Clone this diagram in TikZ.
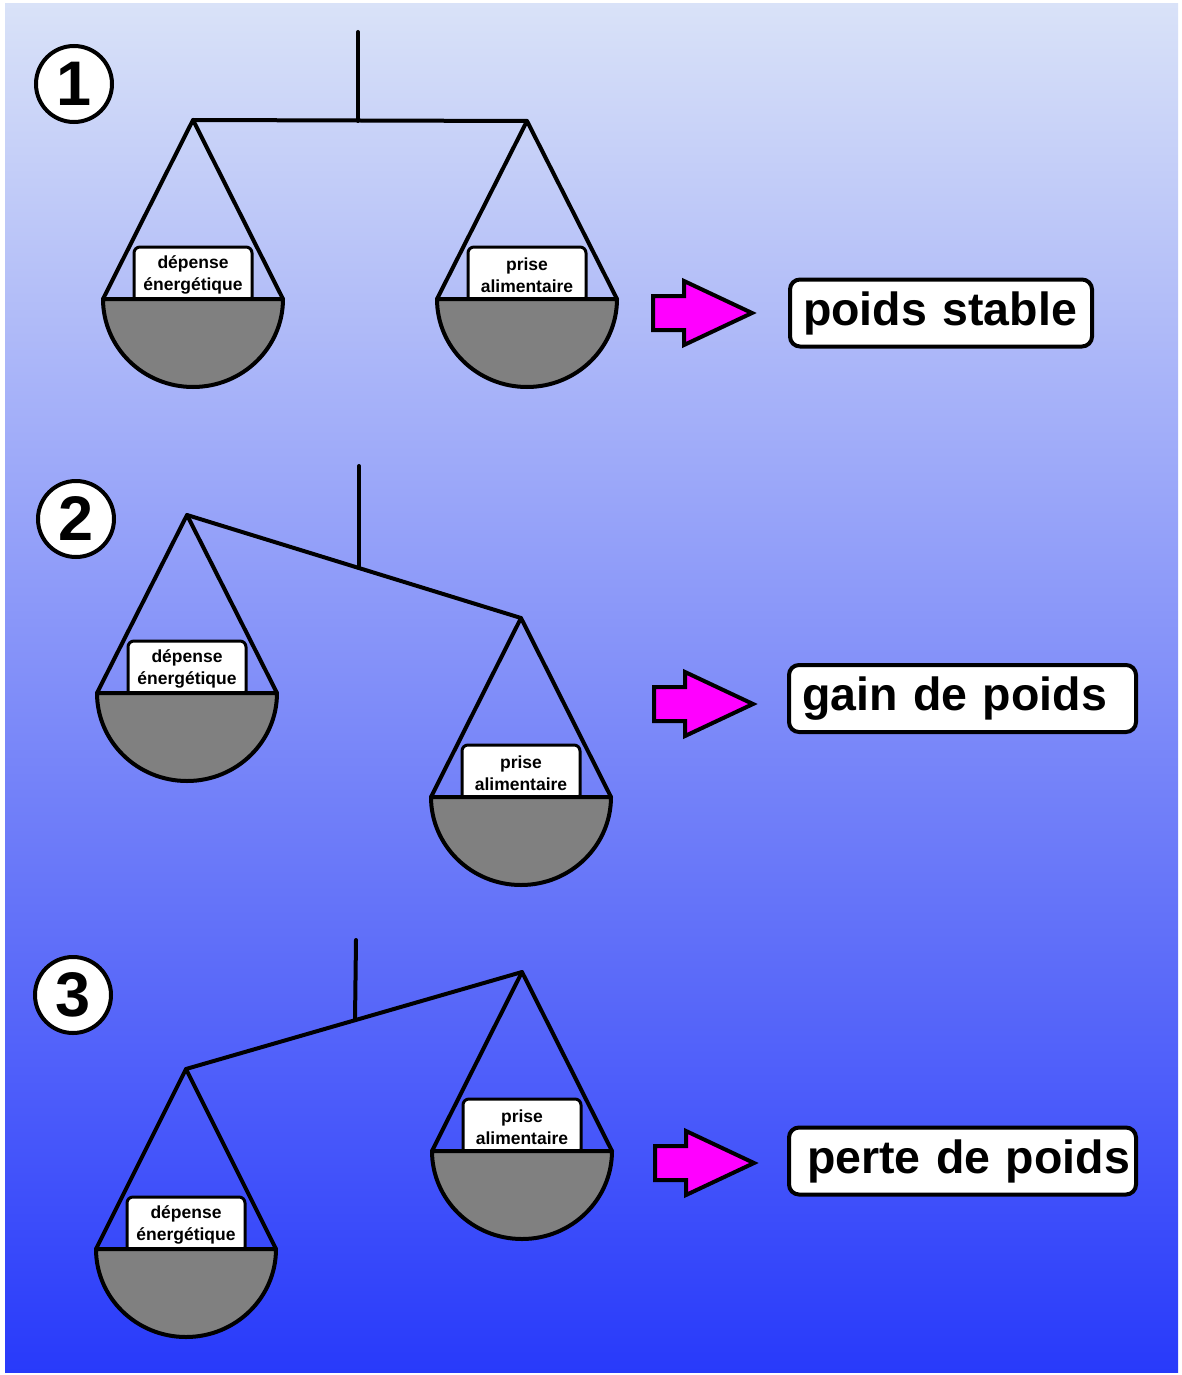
\documentclass[tikz,border=0pt]{standalone}
\usepackage{fontspec}
\setmainfont{Liberation Sans}
\definecolor{bgtop}{RGB}{217,226,248}
\definecolor{bgbot}{RGB}{40,58,250}
\definecolor{pangray}{RGB}{128,128,128}
\definecolor{arrowmag}{RGB}{255,0,255}
\newcommand\drawpan[6]{%
  \coordinate (#1-apex) at (#4,#5);
  \coordinate (#1-l) at (#2-90,#3);
  \coordinate (#1-r) at (#2+90,#3);
  \draw[stringline] (#1-l) -- (#1-apex) -- (#1-r);
  \node[panlabel] (#1-lab) at (#2,#3-24) {#6};
  \draw[panshape] (#1-l) arc[start angle=180,end angle=0,x radius=90,y radius=88] -- cycle;
}
\newcommand\drawarrowshape[2]{%
  \filldraw[arrowshape] (#1,#2-17) -- (#1+31,#2-17) -- (#1+31,#2-32) -- (#1+99,#2) -- (#1+31,#2+32) -- (#1+31,#2+17) -- (#1,#2+17) -- cycle;
}
\tikzset{
  stringline/.style={line width=4pt, line cap=round, line join=round},
  panshape/.style={draw, line width=4pt, fill=pangray, line join=round},
  panlabel/.style={draw, line width=3pt, fill=white, rounded corners=6pt, minimum width=118pt, minimum height=56pt, inner sep=0pt, align=center, font=\bfseries\fontsize{17.5}{21.5}\selectfont},
  numcircle/.style={draw, circle, line width=4pt, fill=white, minimum size=76pt, inner sep=0pt, font=\bfseries\fontsize{63}{63}\selectfont},
  resultbox/.style={draw, line width=4pt, fill=white, rounded corners=10pt, minimum height=67pt, inner xsep=13pt, inner ysep=0pt, align=left, font=\bfseries\fontsize{46.5}{50}\selectfont},
  arrowshape/.style={fill=arrowmag, draw=black, line width=4pt, line join=miter},
}
\begin{document}
\begin{tikzpicture}[x=1pt,y=-1pt]
\useasboundingbox (0,0) rectangle (1181,1375);
\fill[white] (0,0) rectangle (1181,1375);
\shade[top color=bgtop, bottom color=bgbot] (5,4) rectangle (1178,1372);

% ---- scale 1
\coordinate (p1top) at (358,32);
\coordinate (p1mid) at (358,121);
\draw[stringline] (p1top) -- (p1mid);
\drawpan{a1}{193}{299}{193}{120}{dépense\\énergétique}
\drawpan{b1}{527}{299}{527}{121}{prise\\alimentaire}
\draw[stringline] (a1-apex) -- (b1-apex);
\node[numcircle] (n1) at (74,84) {1};
\drawarrowshape{653}{313}
\node[resultbox, text width=276pt] (r1) at (941,313) {poids stable};

% ---- scale 2
\coordinate (p2top) at (359,466);
\coordinate (p2mid) at (359,568);
\draw[stringline] (p2top) -- (p2mid);
\drawpan{a2}{187}{693}{187}{515}{dépense\\énergétique}
\drawpan{b2}{521}{797}{521}{618}{prise\\alimentaire}
\draw[stringline] (a2-apex) -- (b2-apex);
\node[numcircle] (n2) at (76,519) {2};
\drawarrowshape{654}{704}
\node[resultbox, text width=321pt] (r2) at (962.5,698.5) {gain de poids};

% ---- scale 3
\coordinate (p3top) at (356,940);
\coordinate (p3mid) at (355,1020);
\draw[stringline] (p3top) -- (p3mid);
\drawpan{a3}{186}{1249}{186}{1069}{dépense\\énergétique}
\drawpan{b3}{522}{1151}{522}{972}{prise\\alimentaire}
\draw[stringline] (a3-apex) -- (b3-apex);
\node[numcircle] (n3) at (73,995) {3};
\drawarrowshape{655}{1163}
\node[resultbox, text width=321pt] (r3) at (962.5,1161) {\hspace*{5pt}\mbox{perte de poids}};
\end{tikzpicture}
\end{document}
